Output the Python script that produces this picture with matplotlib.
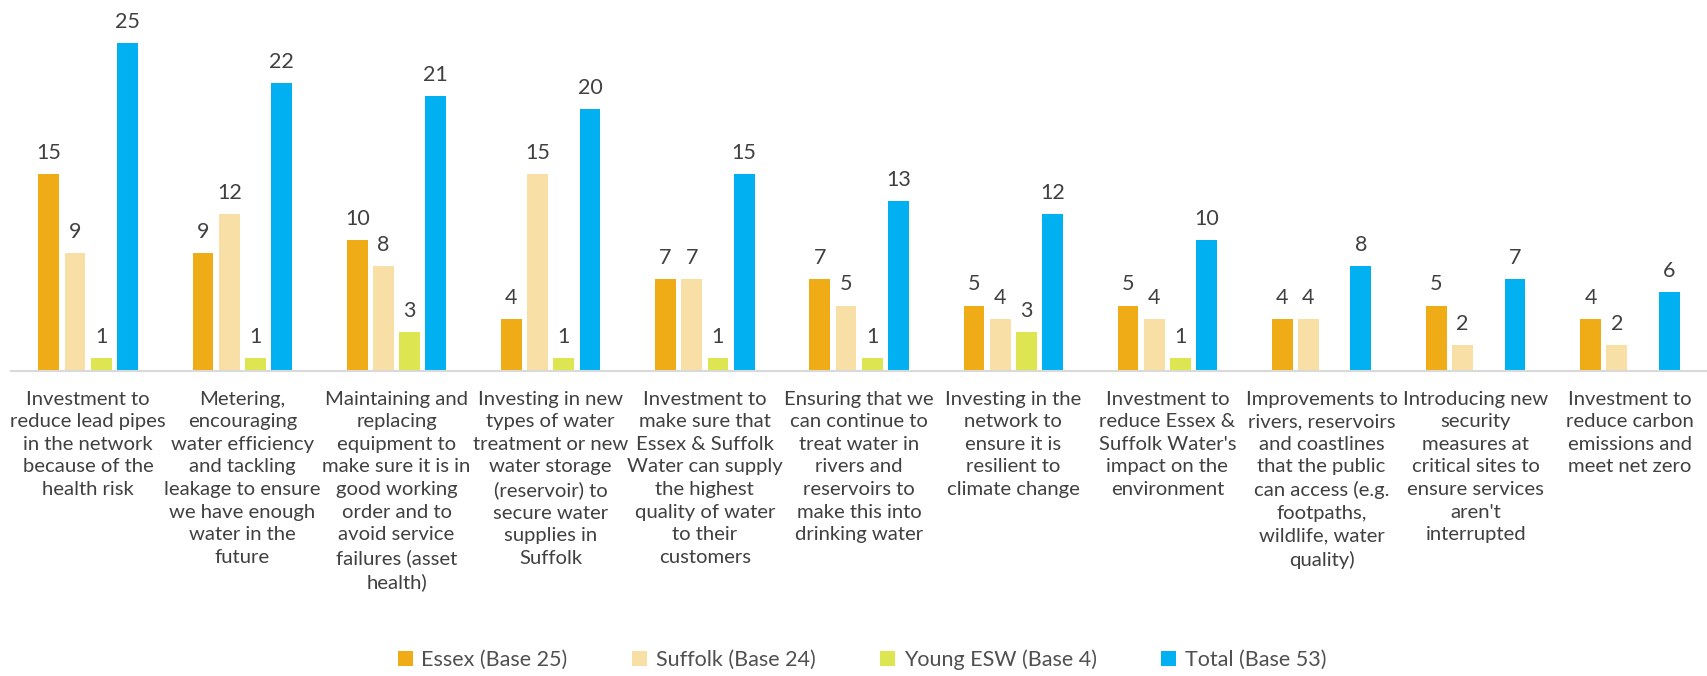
import numpy as np
import matplotlib.pyplot as plt

plt.rcParams['font.family'] = ['Lato', 'DejaVu Sans']

categories = [
    "Investment to\nreduce lead pipes\nin the network\nbecause of the\nhealth risk",
    "Metering,\nencouraging\nwater efficiency\nand tackling\nleakage to ensure\nwe have enough\nwater in the\nfuture",
    "Maintaining and\nreplacing\nequipment to\nmake sure it is in\ngood working\norder and to\navoid service\nfailures (asset\nhealth)",
    "Investing in new\ntypes of water\ntreatment or new\nwater storage\n(reservoir) to\nsecure water\nsupplies in\nSuffolk",
    "Investment to\nmake sure that\nEssex & Suffolk\nWater can supply\nthe highest\nquality of water\nto their\ncustomers",
    "Ensuring that we\ncan continue to\ntreat water in\nrivers and\nreservoirs to\nmake this into\ndrinking water",
    "Investing in the\nnetwork to\nensure it is\nresilient to\nclimate change",
    "Investment to\nreduce Essex &\nSuffolk Water's\nimpact on the\nenvironment",
    "Improvements to\nrivers, reservoirs\nand coastlines\nthat the public\ncan access (e.g.\nfootpaths,\nwildlife, water\nquality)",
    "Introducing new\nsecurity\nmeasures at\ncritical sites to\nensure services\naren't\ninterrupted",
    "Investment to\nreduce carbon\nemissions and\nmeet net zero",
]

essex = [15, 9, 10, 4, 7, 7, 5, 5, 4, 5, 4]
suffolk = [9, 12, 8, 15, 7, 5, 4, 4, 4, 2, 2]
young = [1, 1, 3, 1, 1, 1, 3, 1, np.nan, np.nan, np.nan]
total = [25, 22, 21, 20, 15, 13, 12, 10, 8, 7, 6]

series = [
    ("Essex (Base 25)", essex, "#EFAC17"),
    ("Suffolk (Base 24)", suffolk, "#F8DFA6"),
    ("Young ESW (Base 4)", young, "#DDE650"),
    ("Total (Base 53)", total, "#00B0F0"),
]

fig = plt.figure(figsize=(17.07, 6.76), dpi=100)
ax = fig.add_axes([0.0065, 0.451, 0.9935, 0.549])

x = np.arange(len(categories))
step = 0.17
width = 0.135
for i, (name, vals, col) in enumerate(series):
    pos = x + (i - 1.5) * step
    bars = ax.bar(pos, vals, width, color=col, label=name)
    labels = ["" if np.isnan(v) else f"{int(v)}" for v in np.asarray(vals, float)]
    ax.bar_label(bars, labels=labels, padding=8, fontsize=15.5, color="#404040")

ax.set_xlim(-0.5, len(categories) - 0.5)
ax.set_ylim(0, 28.3)
ax.set_xticks(x)
ax.set_xticklabels(categories, fontsize=14.6, color="#404040", linespacing=1.4,
                   va="top", ha="center")
ax.tick_params(axis='x', length=0, pad=14)
ax.set_yticks([])
for s in ['top', 'right', 'left']:
    ax.spines[s].set_visible(False)
ax.spines['bottom'].set_color('#D9D9D9')
ax.spines['bottom'].set_linewidth(1.5)

fig.legend(loc='lower center', bbox_to_anchor=(0.505, -0.02), ncol=4, frameon=False,
           fontsize=15.5, handlelength=0.7, handleheight=0.7, handletextpad=0.4,
           columnspacing=3.0, labelcolor="#505050")

fig.savefig("out.png", dpi=100)
